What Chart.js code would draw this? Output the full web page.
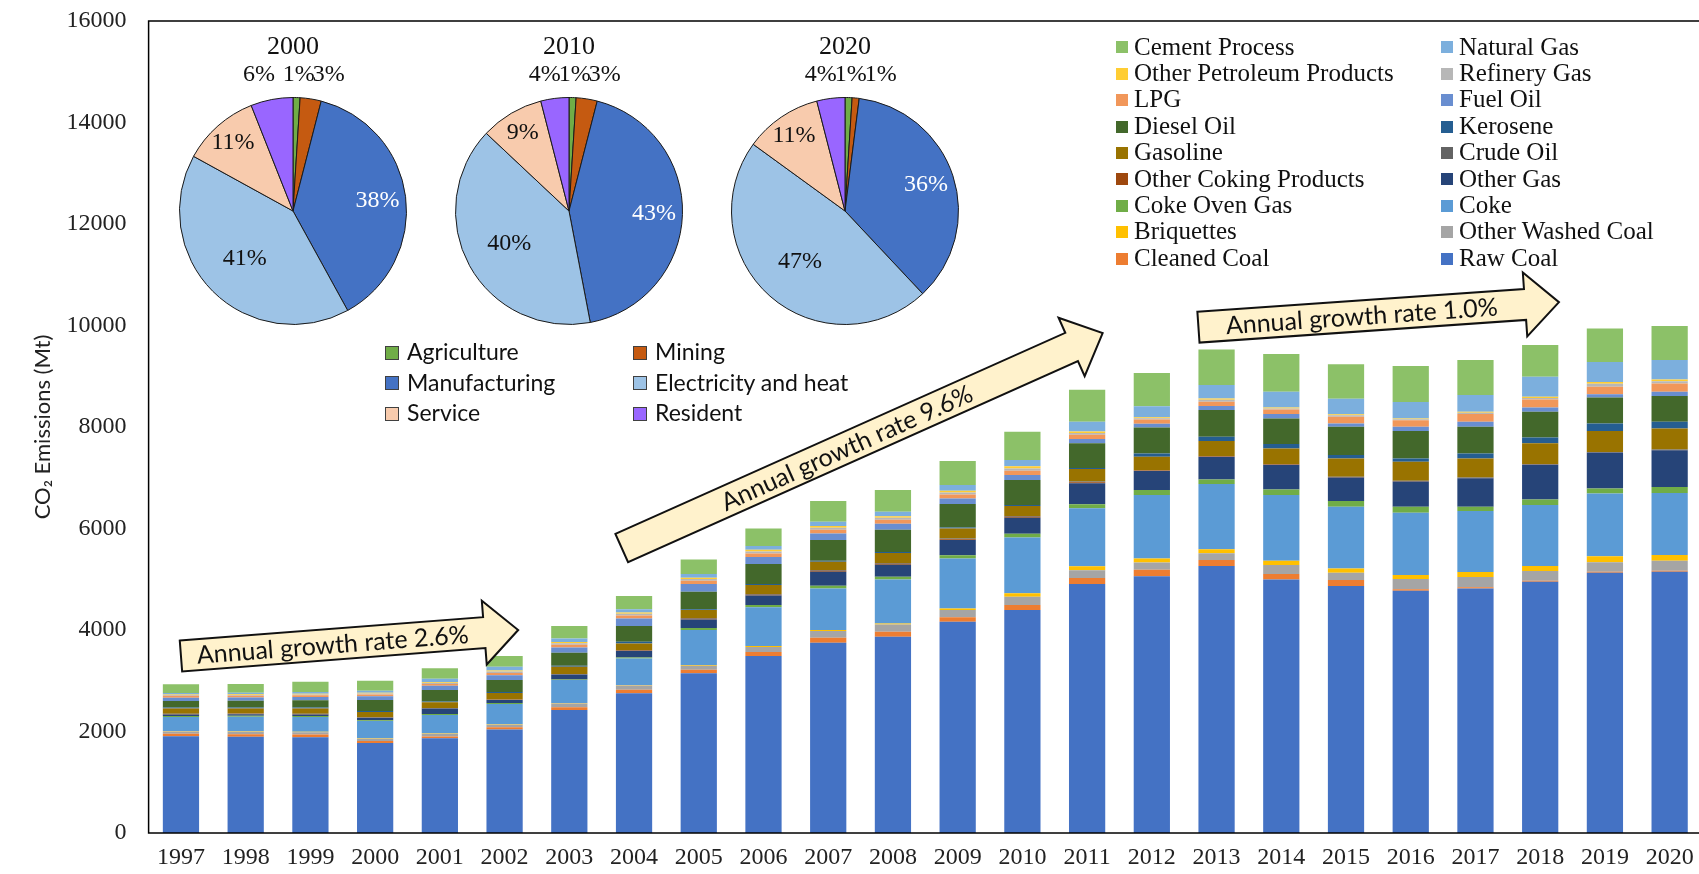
<!DOCTYPE html>
<html lang="en">
<head>
<meta charset="UTF-8">
<title>CO2 Emissions by Fuel Type</title>
<script src="https://cdn.jsdelivr.net/npm/chart.js"></script>
<style>
    html, body { margin: 0; padding: 0; background: #fff; overflow: hidden; }
    body { width: 1699px; height: 874px; position: relative; }
    #barChart { position: absolute; left: 0; top: 0; }
    .pie { position: absolute; top: 20px; }
    .legend-item { position: absolute; white-space: nowrap; height: 26px; line-height: 26px; color: #111; }
    .fuel-legend { font-family: "Liberation Serif", "Times New Roman", serif; font-size: 25px; }
    .sector-legend { font-family: Lato, "Noto Sans", sans-serif; font-size: 23px; height: 30px; line-height: 30px; }
    .legend-item .box { display: inline-block; vertical-align: middle; margin-top: -3px; box-sizing: border-box; }
    .fuel-legend .box { width: 12px; height: 12px; margin-right: 6px; }
    .sector-legend .box { width: 14px; height: 14px; margin-right: 8px; border: 1px solid #404040; }
</style>
</head>
<body>
<canvas id="barChart" width="1704" height="874"></canvas>
<canvas id="pie2000" class="pie" width="300" height="320"></canvas>
<canvas id="pie2010" class="pie" width="300" height="320"></canvas>
<canvas id="pie2020" class="pie" width="300" height="320"></canvas>
<div id="legends"></div>

<script>
// ---- bar data (Mt CO2), stacked bottom to top ----
const years = ['1997','1998','1999','2000','2001','2002','2003','2004','2005','2006','2007','2008',
               '2009','2010','2011','2012','2013','2014','2015','2016','2017','2018','2019','2020'];

const rawCoal         = [1905,1898,1885,1775,1865,2040,2425,2755,3146,3487,3749,3867,4163,4393,4905,5057,5260,4994,4866,4774,4820,4951,5129,5148];
const cleanedCoal     = [50,50,55,40,35,45,55,70,70,80,100,100,90,100,120,129,119,109,118,29,20,20,20,20];
const otherWashedCoal = [45,45,45,40,55,50,70,80,80,100,130,140,140,160,150,145,131,177,144,200,203,191,184,197];
const briquettes      = [10,10,10,10,10,10,10,11,14,17,20,22,33,69,80,80,79,85,85,80,98,98,118,112];
const coke            = [276,287,290,340,360,395,455,521,689,762,821,868,985,1103,1145,1248,1286,1294,1214,1227,1202,1202,1237,1224];
const cokeOvenGas     = [20,20,20,15,20,20,10,20,40,45,50,50,60,70,80,100,91,111,115,118,85,108,98,119];
const otherGas        = [30,30,30,50,110,60,100,130,170,190,280,240,300,315,410,375,445,483,465,500,563,687,711,723];
const otherCoking     = [8,8,8,5,5,5,5,10,15,15,17,17,18,20,20,8,8,8,6,6,6,6,6,6];
const crudeOil        = [7,7,7,5,5,5,5,8,12,12,14,15,16,15,17,8,8,8,6,7,6,6,6,6];
const gasoline        = [100,100,105,105,110,130,140,128,157,178,164,197,197,197,244,262,295,308,361,374,378,413,413,416];
const kerosene        = [20,20,20,20,15,20,20,36,14,19,19,19,20,20,19,64,86,86,66,66,96,112,149,132];
const dieselOil       = [131,130,140,215,230,235,255,309,347,394,408,441,459,492,492,512,525,505,558,541,528,506,512,506];
const fuelOil         = [65,65,65,75,80,95,105,150,150,140,130,120,110,100,81,78,80,89,66,81,99,85,64,85];
const lpg             = [35,35,35,35,35,45,55,60,65,70,75,75,80,85,85,80,85,88,131,131,151,158,144,164];
const refineryGas     = [15,15,15,20,20,25,30,30,35,40,40,40,40,45,35,25,40,20,30,20,26,30,60,45];
const otherPetroleum  = [12,12,12,15,15,20,25,25,28,30,30,30,35,44,30,20,25,20,22,13,20,22,38,34];
const naturalGas      = [30,30,35,40,70,76,67,64,70,75,84,89,110,120,190,220,263,309,306,328,328,394,394,381];
const cementProcess   = [171,173,204,196,204,211,246,262,289,348,409,427,472,558,632,654,703,742,679,705,689,626,659,670];

const fuelNames = ['Raw Coal','Cleaned Coal','Other Washed Coal','Briquettes','Coke','Coke Oven Gas','Other Gas',
    'Other Coking Products','Crude Oil','Gasoline','Kerosene','Diesel Oil','Fuel Oil','LPG','Refinery Gas',
    'Other Petroleum Products','Natural Gas','Cement Process'];
const fuelValues = [rawCoal, cleanedCoal, otherWashedCoal, briquettes, coke, cokeOvenGas, otherGas, otherCoking,
    crudeOil, gasoline, kerosene, dieselOil, fuelOil, lpg, refineryGas, otherPetroleum, naturalGas, cementProcess];
const fuelColors = ['#4472C4','#ED7D31','#A5A5A5','#FFC000','#5B9BD5','#70AD47','#264478','#9E480E','#636363',
    '#997300','#255E91','#43682B','#698ED0','#F1975A','#B7B7B7','#FFCD33','#7CAFDD','#8CC168'];

const yTicks = [0,2000,4000,6000,8000,10000,12000,14000,16000];

// ---- pie data (% share by sector) ----
const sectors = ['Agriculture','Mining','Manufacturing','Electricity and heat','Service','Resident'];
const pieYears = ['2000','2010','2020'];
const share2000 = [1,3,38,41,11,6];
const share2010 = [1,3,43,40,9,4];
const share2020 = [1,1,36,47,11,4];
const sectorColors = ['#70AD47','#C55A11','#4472C4','#9DC3E6','#F8CBAD','#9966FF'];

// growth-rate arrows, anchored in data space: [category index, Mt]
const growthArrows = [
    { label: 'Annual growth rate 2.6%', from: [0.0, 3487], to: [5.21, 4000] },
    { label: 'Annual growth rate 9.6%', from: [6.81, 5615], to: [14.24, 9850] },
    { label: 'Annual growth rate 1.0%', from: [15.72, 9968], to: [21.29, 10461] }
];

const serif = '"Liberation Serif", "Times New Roman", serif';
const sans = 'Lato, "Noto Sans", sans-serif';

const framePlugin = {
    id: 'frame',
    afterDraw(chart) {
        const { ctx, chartArea: a } = chart;
        ctx.save();
        ctx.strokeStyle = '#000';
        ctx.lineWidth = 1.5;
        ctx.strokeRect(a.left, a.top, a.right - a.left, a.bottom - a.top);
        ctx.restore();
    }
};

const arrowPlugin = {
    id: 'growthArrows',
    afterDatasetsDraw(chart) {
        const { ctx, scales: { x, y } } = chart;
        growthArrows.forEach(ar => {
            const tx = x.getPixelForValue(ar.from[0]), ty = y.getPixelForValue(ar.from[1]);
            const px = x.getPixelForValue(ar.to[0]), py = y.getPixelForValue(ar.to[1]);
            const len = Math.hypot(px - tx, py - ty);
            const w = 15.5, hw = 32, hl = 34, b = len - hl;
            ctx.save();
            ctx.translate(tx, ty);
            ctx.rotate(Math.atan2(py - ty, px - tx));
            ctx.beginPath();
            ctx.moveTo(0, -w); ctx.lineTo(b, -w); ctx.lineTo(b, -hw); ctx.lineTo(len, 0);
            ctx.lineTo(b, hw); ctx.lineTo(b, w); ctx.lineTo(0, w); ctx.closePath();
            ctx.fillStyle = '#FFF2CC';
            ctx.fill();
            ctx.lineWidth = 2;
            ctx.lineJoin = 'miter';
            ctx.strokeStyle = '#111';
            ctx.stroke();
            ctx.fillStyle = '#111';
            ctx.font = '25px ' + sans;
            ctx.textAlign = 'center';
            ctx.textBaseline = 'middle';
            ctx.fillText(ar.label, b / 2, 1);
            ctx.restore();
        });
    }
};

new Chart(document.getElementById('barChart'), {
    type: 'bar',
    data: {
        labels: years,
        datasets: fuelNames.map((name, i) => ({
            label: name,
            data: fuelValues[i],
            backgroundColor: fuelColors[i],
            borderWidth: 0
        }))
    },
    options: {
        responsive: false,
        animation: false,
        layout: { padding: { top: 21, right: 2, left: 0, bottom: 0 } },
        datasets: { bar: { categoryPercentage: 1, barPercentage: 0.56 } },
        plugins: { legend: { display: false }, tooltip: { enabled: false } },
        scales: {
            x: {
                stacked: true,
                grid: { display: false, drawTicks: false },
                border: { display: false },
                ticks: { font: { family: serif, size: 24 }, color: '#222', padding: 10, maxRotation: 0, autoSkip: false },
                afterFit(s) { s.height = 41; }
            },
            y: {
                stacked: true,
                min: 0, max: 16000,
                afterBuildTicks(s) { s.ticks = yTicks.map(v => ({ value: v })); },
                grid: { display: false, drawTicks: false },
                border: { display: false },
                ticks: { font: { family: serif, size: 24 }, color: '#222', padding: 22, callback: v => String(v) },
                title: {
                    display: true, text: 'CO\u2082 Emissions (Mt)', color: '#222',
                    font: { family: sans, size: 22 }, padding: { top: 30, bottom: 0 }
                },
                afterFit(s) { s.width = 148.6; s.paddingTop = 0; s.paddingBottom = 0; }
            }
        }
    },
    plugins: [framePlugin, arrowPlugin]
});

// ---- pies ----
const pieLabelPlugin = {
    id: 'pieLabels',
    afterDatasetsDraw(chart, args, opts) {
        const { ctx } = chart;
        const arcs = chart.getDatasetMeta(0).data;
        const vals = chart.data.datasets[0].data;
        const cx = arcs[0].x, cy = arcs[0].y, r = arcs[0].outerRadius;
        const mid = a => (a.startAngle + a.endAngle) / 2;
        ctx.save();
        ctx.textAlign = 'center';
        ctx.textBaseline = 'middle';
        ctx.fillStyle = '#111';
        ctx.font = '26px ' + serif;
        ctx.fillText(opts.title, cx, 27);
        ctx.font = '24px ' + serif;
        // small slices go on a row above the pie
        const agriX = cx + Math.cos(mid(arcs[0])) * r * 1.6;
        const resX = Math.min(cx + Math.cos(mid(arcs[5])) * r * 1.6, agriX - 30);
        const minX = Math.max(cx + Math.cos(mid(arcs[1])) * r * 1.6, agriX + 30);
        ctx.fillText(vals[5] + '%', resX, 55);
        ctx.fillText(vals[0] + '%', agriX, 55);
        ctx.fillText(vals[1] + '%', minX, 55);
        // large slices inside
        const inside = { 2: 0.75, 3: 0.6, 4: 0.8 };
        Object.keys(inside).forEach(k => {
            const a = arcs[k], m = mid(a), f = inside[k];
            ctx.fillStyle = k === '2' ? '#fff' : '#111';
            ctx.fillText(vals[k] + '%', cx + Math.cos(m) * r * f, cy + Math.sin(m) * r * f);
        });
        ctx.restore();
    }
};

const pieShares = [share2000, share2010, share2020];
const pieCenters = [293, 569, 845];
pieYears.forEach((yr, i) => {
    const el = document.getElementById('pie' + yr);
    el.style.left = (pieCenters[i] - 150) + 'px';
    new Chart(el, {
        type: 'pie',
        data: {
            labels: sectors,
            datasets: [{ data: pieShares[i], backgroundColor: sectorColors, borderColor: '#1a1a1a', borderWidth: 1 }]
        },
        options: {
            responsive: false,
            animation: false,
            layout: { padding: { top: 77, bottom: 15, left: 36, right: 36 } },
            plugins: { legend: { display: false }, tooltip: { enabled: false }, pieLabels: { title: yr } }
        },
        plugins: [pieLabelPlugin]
    });
});

// ---- legends ----
const legends = document.getElementById('legends');
function addItem(cls, color, text, left, top) {
    const d = document.createElement('div');
    d.className = 'legend-item ' + cls;
    d.style.left = left + 'px';
    d.style.top = top + 'px';
    const b = document.createElement('span');
    b.className = 'box';
    b.style.background = color;
    d.appendChild(b);
    d.appendChild(document.createTextNode(text));
    legends.appendChild(d);
}

// fuel legend: two columns, top of stack first
const order = fuelNames.map((_, i) => fuelNames.length - 1 - i);
order.forEach((idx, k) => {
    const row = Math.floor(k / 2), col = k % 2;
    addItem('fuel-legend', fuelColors[idx], fuelNames[idx], col ? 1441 : 1116, 33.6 + row * 26.4);
});

// sector legend: two columns, three rows
sectors.forEach((name, k) => {
    const row = Math.floor(k / 2), col = k % 2;
    addItem('sector-legend', sectorColors[k], name, col ? 633 : 385, 336 + row * 30.5);
});
</script>
</body>
</html>
